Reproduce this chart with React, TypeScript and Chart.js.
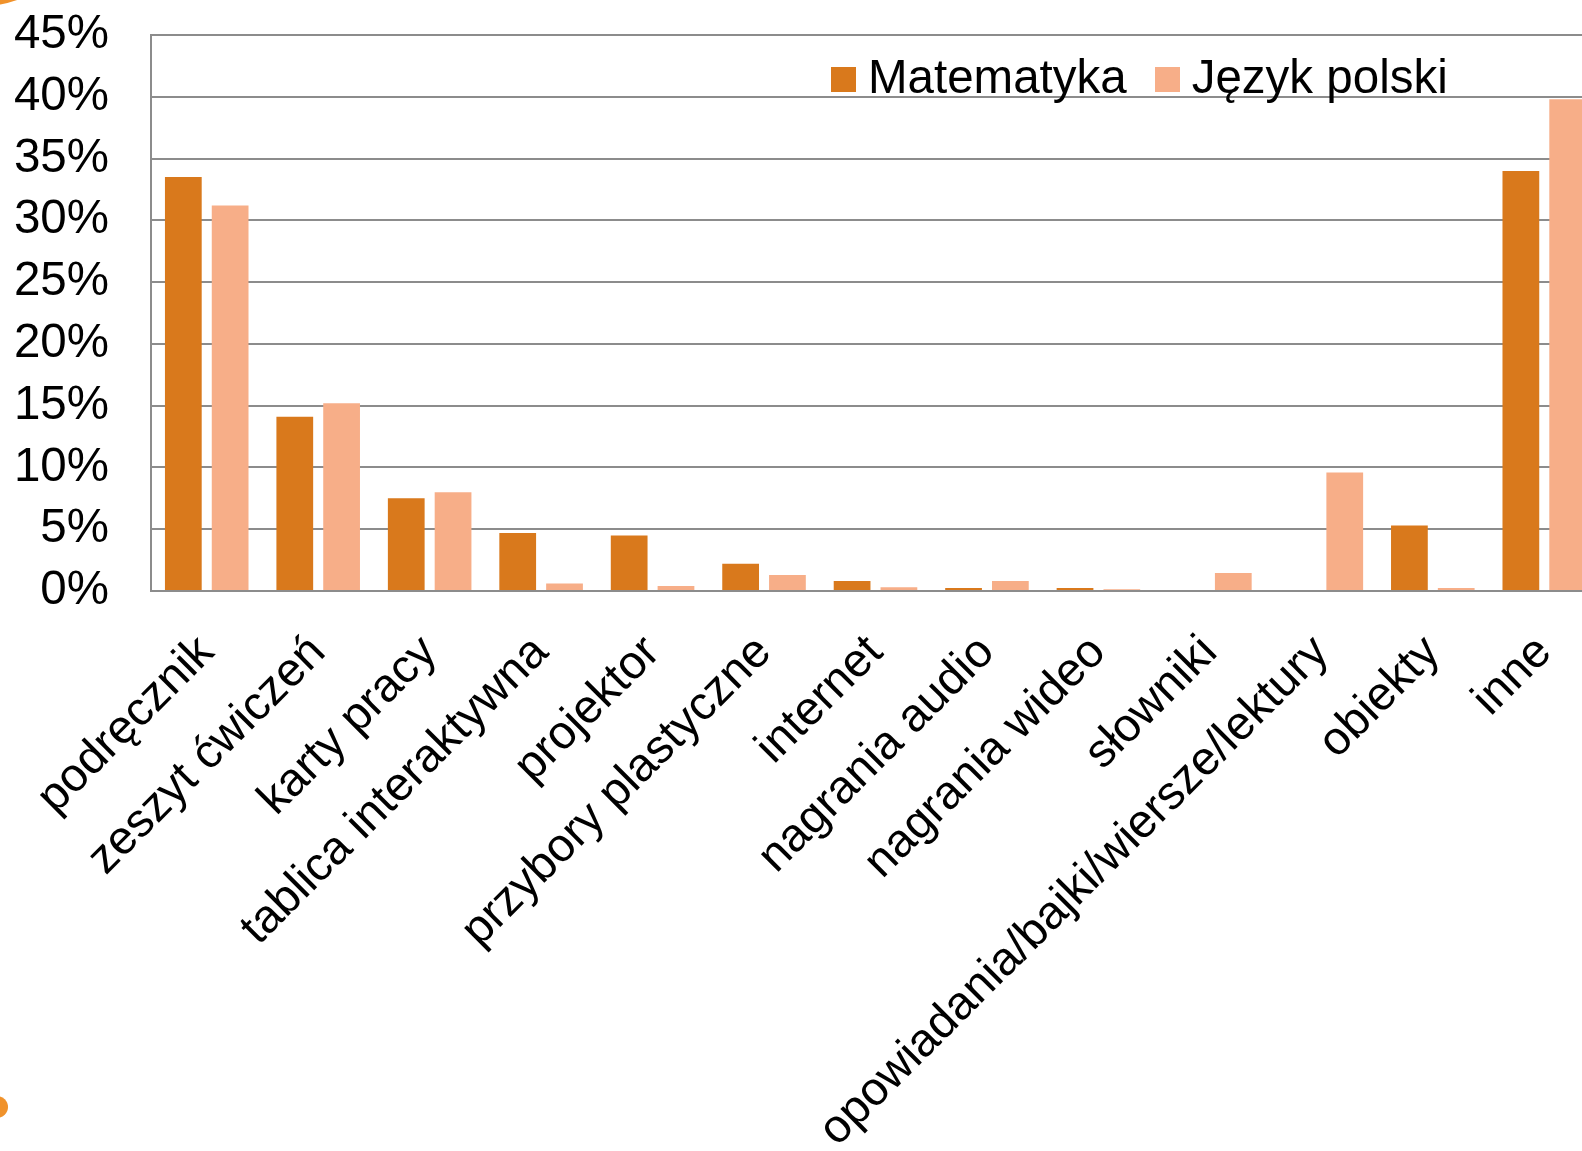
import React, { useEffect, useRef } from "react";
import { Chart, registerables } from "chart.js";

Chart.register(...registerables);

const categories = [
  "podręcznik",
  "zeszyt ćwiczeń",
  "karty pracy",
  "tablica interaktywna",
  "projektor",
  "przybory plastyczne",
  "internet",
  "nagrania audio",
  "nagrania wideo",
  "słowniki",
  "opowiadania/bajki/wiersze/lektury",
  "obiekty",
  "inne",
];

const matematyka = [33.5, 14.1, 7.5, 4.7, 4.5, 2.2, 0.8, 0.25, 0.25, 0, 0, 5.3, 34.0];
const jezykPolski = [31.2, 15.2, 8.0, 0.6, 0.4, 1.3, 0.3, 0.8, 0.15, 1.45, 9.6, 0.25, 39.8];

const seriesNames = ["Matematyka", "Język polski"];
const seriesColors = ["#D9791C", "#F7AE88"];
const yTicks = [0, 5, 10, 15, 20, 25, 30, 35, 40, 45];

const FONT = "'Liberation Sans', Arial, sans-serif";
const CANVAS_W = 1600;
const CANVAS_H = 1260;

export default function App() {
  const ref = useRef<HTMLCanvasElement | null>(null);

  useEffect(() => {
    if (!ref.current) return;
    const chart = new Chart(ref.current, {
      type: "bar",
      data: {
        labels: categories,
        datasets: [
          {
            label: seriesNames[0],
            data: matematyka,
            backgroundColor: seriesColors[0],
            categoryPercentage: 0.84,
            barPercentage: 0.785,
          },
          {
            label: seriesNames[1],
            data: jezykPolski,
            backgroundColor: seriesColors[1],
            categoryPercentage: 0.84,
            barPercentage: 0.785,
          },
        ],
      },
      options: {
        responsive: false,
        animation: false,
        devicePixelRatio: 1,
        layout: { padding: { top: 35, left: 0, right: 0, bottom: 0 } },
        plugins: {
          legend: { display: false },
          tooltip: { enabled: false },
        },
        scales: {
          x: {
            grid: { display: false, drawTicks: false },
            border: { display: true, color: "#8c8c8c", width: 2 },
            ticks: {
              autoSkip: false,
              maxRotation: 45,
              minRotation: 45,
              color: "#000",
              padding: 34,
              font: { family: FONT, size: 47 },
            },
            afterFit: (scale: any) => {
              scale.height = CANVAS_H - 591;
              scale.paddingLeft = 0;
              scale.paddingRight = 0;
            },
          },
          y: {
            min: 0,
            max: 45,
            afterBuildTicks: (scale: any) => {
              scale.ticks = yTicks.map((v) => ({ value: v }));
            },
            grid: { color: "#8c8c8c", lineWidth: 2, drawTicks: false },
            border: { display: true, color: "#8c8c8c", width: 2 },
            ticks: {
              color: "#000",
              padding: 42,
              font: { family: FONT, size: 47.5 },
              callback: (v: any) => v + "%",
            },
            afterFit: (scale: any) => {
              scale.width = 151;
              scale.paddingTop = 0;
              scale.paddingBottom = 0;
            },
          },
        },
      },
    });
    return () => chart.destroy();
  }, []);

  return (
    <div
      style={{
        position: "fixed",
        left: 0,
        top: 0,
        width: 1582,
        height: 1151,
        overflow: "hidden",
        background: "#fff",
      }}
    >
      <canvas ref={ref} width={CANVAS_W} height={CANVAS_H} style={{ display: "block" }} />
      <div
        style={{
          position: "absolute",
          left: 831,
          top: 53,
          display: "flex",
          alignItems: "flex-start",
          fontFamily: FONT,
          fontSize: 47.5,
          lineHeight: "47px",
          color: "#000",
          whiteSpace: "nowrap",
        }}
      >
        {seriesNames.map((name, i) => (
          <div key={name} style={{ display: "flex", alignItems: "flex-start", marginRight: i === 0 ? 28 : 0 }}>
            <div
              style={{
                width: 25,
                height: 25,
                marginTop: 14,
                marginRight: 12,
                background: seriesColors[i],
              }}
            />
            <span>{name}</span>
          </div>
        ))}
      </div>
      <div
        style={{
          position: "absolute",
          left: -152,
          top: -248,
          width: 255,
          height: 255,
          borderRadius: "50%",
          background: "#F0922B",
        }}
      />
      <div
        style={{
          position: "absolute",
          left: -14,
          top: 1096,
          width: 22,
          height: 22,
          borderRadius: "50%",
          background: "#F0922B",
        }}
      />
    </div>
  );
}
